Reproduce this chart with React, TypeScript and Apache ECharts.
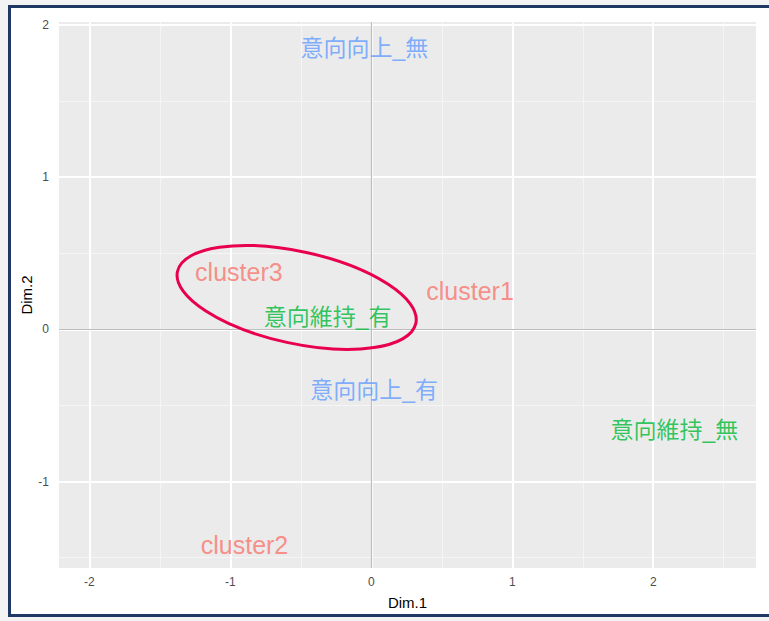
import React, { useEffect, useRef } from "react";
import * as echarts from "echarts";

const clusterNames = ["cluster1", "cluster2", "cluster3"];
const clusterX = [0.7, -0.9, -0.94];
const clusterY = [0.25, -1.42, 0.38];

const ikouJijiNames = ["意向維持_有", "意向維持_無"];
const ikouJijiX = [-0.31, 2.15];
const ikouJijiY = [0.08, -0.66];

const ikouKoujouNames = ["意向向上_無", "意向向上_有"];
const ikouKoujouX = [-0.05, 0.02];
const ikouKoujouY = [1.85, -0.4];

const xTicks = [-2, -1, 0, 1, 2];
const yTicks = [-1, 0, 1, 2];
const xMinor = [-1.5, -0.5, 0.5, 1.5, 2.5];
const yMinor = [-1.5, -0.5, 0.5, 1.5];
const xRange = [-2.216, 2.729];
const yRange = [-1.568, 2.02];

// ellipse annotation (center in data units)
const ellipseCenter = [-0.53, 0.21];

const FONT = "'Liberation Sans', Arial, 'Noto Sans CJK JP', sans-serif";

function labelSeries(names: string[], xs: number[], ys: number[], color: string, size: number) {
  return {
    type: "scatter",
    symbolSize: 0,
    silent: true,
    z: 5,
    data: names.map((n, i) => ({ name: n, value: [xs[i], ys[i]] })),
    label: {
      show: true,
      position: "inside",
      formatter: (p: any) => p.name,
      color,
      fontSize: size,
      fontFamily: FONT,
    },
  };
}

export default function App() {
  const ref = useRef<HTMLDivElement>(null);
  useEffect(() => {
    document.body.style.margin = "0";
    const chart = echarts.init(ref.current!, null, { renderer: "svg" });
    const gridLines = (vals: number[], key: string, color: string, width: number) =>
      vals.map((v) => ({ [key]: v, lineStyle: { color, width, type: "solid" } }));
    chart.setOption({
      animation: false,
      grid: {
        left: 59,
        right: 13,
        top: 22,
        bottom: 53,
        show: true,
        backgroundColor: "#EBEBEB",
        borderWidth: 0,
      },
      xAxis: {
        type: "value",
        min: xRange[0],
        max: xRange[1],
        name: "Dim.1",
        nameLocation: "middle",
        nameGap: 27,
        nameTextStyle: { fontFamily: FONT, fontSize: 15, color: "#000" },
        axisLine: { show: false },
        axisTick: { show: true, customValues: xTicks, length: 4, lineStyle: { color: "#444" } },
        axisLabel: { customValues: xTicks, color: "#4D4D4D", fontSize: 12, fontFamily: FONT, margin: 8 },
        splitLine: { show: false },
      },
      yAxis: {
        type: "value",
        min: yRange[0],
        max: yRange[1],
        name: "Dim.2",
        nameLocation: "middle",
        nameGap: 25,
        nameMoveOverlap: false,
        nameTextStyle: { fontFamily: FONT, fontSize: 15, color: "#000" },
        axisLine: { show: false },
        axisTick: { show: true, customValues: yTicks, length: 4, lineStyle: { color: "#444" } },
        axisLabel: { customValues: yTicks, color: "#4D4D4D", fontSize: 12, fontFamily: FONT, margin: 10 },
        splitLine: { show: false },
      },
      series: [
        {
          type: "line",
          data: [],
          silent: true,
          z: 1,
          markLine: {
            silent: true,
            symbol: "none",
            label: { show: false },
            data: [
              ...gridLines(xMinor, "xAxis", "#F5F5F5", 1),
              ...gridLines(yMinor, "yAxis", "#F5F5F5", 1),
              ...gridLines(xTicks, "xAxis", "#FFFFFF", 2),
              ...gridLines(yTicks, "yAxis", "#FFFFFF", 2),
              { xAxis: 0, lineStyle: { color: "#BDBDBD", width: 1.2, type: "solid" } },
              { yAxis: 0, lineStyle: { color: "#BDBDBD", width: 1.2, type: "solid" } },
            ],
          },
        },
        labelSeries(clusterNames, clusterX, clusterY, "#F8766D", 25),
        labelSeries(ikouJijiNames, ikouJijiX, ikouJijiY, "#00BA38", 23),
        labelSeries(ikouKoujouNames, ikouKoujouX, ikouKoujouY, "#619CFF", 23),
      ],
    });
    const c = chart.convertToPixel({ gridIndex: 0 }, ellipseCenter) as number[];
    chart.setOption({
      graphic: [
        {
          type: "ellipse",
          x: c[0],
          y: c[1],
          rotation: -0.215,
          shape: { cx: 0, cy: 0, rx: 122, ry: 46 },
          style: { fill: "none", stroke: "#E8004F", lineWidth: 3 },
          z: 100,
          silent: true,
        },
      ],
    });
    return () => chart.dispose();
  }, []);
  return (
    <div style={{ position: "relative", width: 769, height: 621, background: "#F3F3F3", overflow: "hidden" }}>
      <div
        style={{
          position: "absolute",
          left: 8,
          top: 5,
          width: 780,
          height: 606,
          border: "3px solid #1F3864",
          background: "#FFFFFF",
        }}
      />
      <div ref={ref} style={{ position: "absolute", left: 0, top: 0, width: 769, height: 621 }} />
    </div>
  );
}
